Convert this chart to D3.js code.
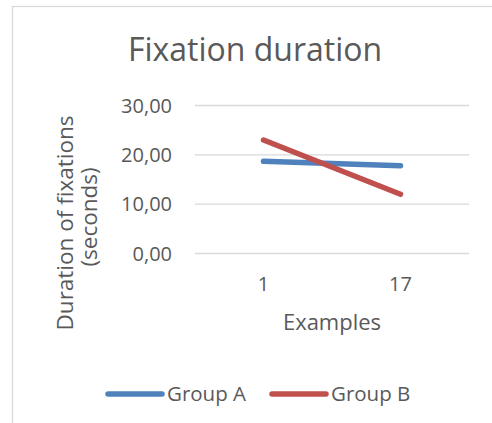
<!DOCTYPE html>
<meta charset="utf-8">
<body style="margin:0">
<style>
  body { background: #fff; }
  text { font-family: "Open Sans", sans-serif; fill: #595959; }
  .grid line { stroke: #d9d9d9; stroke-width: 1.3; }
  .grid .domain, .xaxis .domain { display: none; }
  .xaxis line { display: none; }
</style>
<div id="chart"></div>
<script src="https://d3js.org/d3.v7.min.js"></script>
<script>
  // chart data
  var categories = ["1", "17"];
  var groupA = [18.6, 17.7];
  var groupB = [22.9, 11.9];
  var seriesNames = ["Group A", "Group B"];
  var yTicks = [0, 10, 20, 30];

  var colors = ["#4f81bd", "#c0504d"];
  var series = [groupA, groupB];

  var W = 492, H = 423;
  var plot = { left: 195, right: 469, top: 105, bottom: 253 };

  var svg = d3.select("#chart").append("svg")
    .attr("width", W)
    .attr("height", H);

  // chart border (only top/left visible in the crop)
  svg.append("rect")
    .attr("x", 12.5).attr("y", 6.5)
    .attr("width", 600).attr("height", 600)
    .attr("fill", "none")
    .attr("stroke", "#d9d9d9")
    .attr("stroke-width", 1.3);

  var x = d3.scaleBand()
    .domain(categories)
    .range([plot.left, plot.right])
    .padding(0);

  var y = d3.scaleLinear()
    .domain([0, 30])
    .range([plot.bottom, plot.top]);

  var fmt = d3.formatLocale({ decimal: ",", thousands: ".", grouping: [3], currency: ["", ""] }).format(".2f");

  // y axis + gridlines
  var gy = svg.append("g")
    .attr("class", "grid")
    .attr("transform", "translate(" + plot.left + ",0)")
    .call(d3.axisLeft(y)
      .tickValues(yTicks)
      .tickSize(-(plot.right - plot.left))
      .tickPadding(23)
      .tickFormat(fmt));
  gy.selectAll("text")
    .style("font-size", "20px")
    .attr("dy", "0.36em");

  // x axis
  var gx = svg.append("g")
    .attr("class", "xaxis")
    .attr("transform", "translate(0," + plot.bottom + ")")
    .call(d3.axisBottom(x).tickSize(0).tickPadding(24));
  gx.selectAll("text").style("font-size", "20px");

  // title
  svg.append("text")
    .attr("x", 255)
    .attr("y", 61)
    .attr("text-anchor", "middle")
    .style("font-size", "32px")
    .text("Fixation duration");

  // y axis title (two lines)
  var yt = svg.append("text")
    .attr("transform", "translate(73,223) rotate(-90)")
    .attr("text-anchor", "middle")
    .style("font-size", "22.5px");
  yt.append("tspan").attr("x", 0).attr("y", 0).text("Duration of fixations");
  yt.append("tspan").attr("x", 6).attr("y", 24).text("(seconds)");

  // x axis title
  svg.append("text")
    .attr("x", 332)
    .attr("y", 330)
    .attr("text-anchor", "middle")
    .style("font-size", "22px")
    .text("Examples");

  // lines
  var line = d3.line()
    .x(function(d, i) { return x(categories[i]) + x.bandwidth() / 2; })
    .y(function(d) { return y(d); });

  series.forEach(function(s, k) {
    svg.append("path")
      .datum(s)
      .attr("d", line)
      .attr("fill", "none")
      .attr("stroke", colors[k])
      .attr("stroke-width", 5.5)
      .attr("stroke-linecap", "round");
  });

  // legend
  var legendX = [108, 272];
  seriesNames.forEach(function(name, k) {
    var g = svg.append("g").attr("transform", "translate(" + legendX[k] + ",394)");
    g.append("line")
      .attr("x1", 0).attr("x2", 54)
      .attr("y1", 0).attr("y2", 0)
      .attr("stroke", colors[k])
      .attr("stroke-width", 5.5)
      .attr("stroke-linecap", "round");
    g.append("text")
      .attr("x", 59)
      .attr("y", 7)
      .style("font-size", "20.5px")
      .text(name);
  });
</script>
</body>
